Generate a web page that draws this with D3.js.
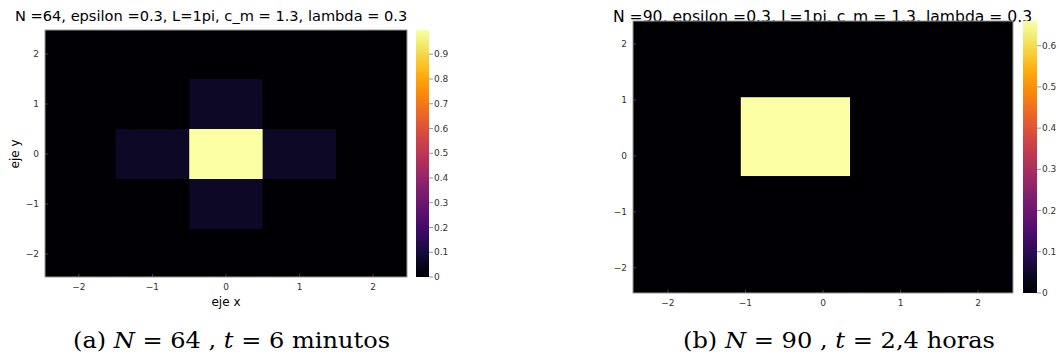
<!DOCTYPE html>
<html>
<head>
<meta charset="utf-8">
<script src="https://cdn.jsdelivr.net/npm/d3@7"></script>
<style>
  body { margin: 0; background: #fff; }
  svg { display: block; }
</style>
</head>
<body>
<div id="theChart"></div>
<script>
// panel (a): 5x5 grid, unit cells
const aTitle = "N =64, epsilon =0.3, L=1pi, c_m = 1.3, lambda = 0.3"
const aXCenters = [-2, -1, 0, 1, 2]
const aYCenters = [-2, -1, 0, 1, 2]
const aCell = 1
// rows from y=-2 to y=2
const aValues = [
	[0, 0, 0, 0, 0],
	[0, 0, 0.07, 0, 0],
	[0, 0.07, 0.998, 0.07, 0],
	[0, 0, 0.07, 0, 0],
	[0, 0, 0, 0, 0],
]
const aMax = 0.998
const aBarTicks = [0, 0.1, 0.2, 0.3, 0.4, 0.5, 0.6, 0.7, 0.8, 0.9]

// panel (b): coarser grid
const bTitle = "N =90, epsilon =0.3, L=1pi, c_m = 1.3, lambda = 0.3"
const bXCenters = [-1.765, -0.355, 1.055, 2.465]
const bYCenters = [-2.475, -1.065, 0.345, 1.755]
const bCell = 1.41
const bValues = [
	[0, 0, 0, 0],
	[0, 0, 0, 0],
	[0, 0.66, 0, 0],
	[0, 0, 0, 0],
]
const bMax = 0.66
const bBarTicks = [0, 0.1, 0.2, 0.3, 0.4, 0.5, 0.6]

const axisTicks = [-2, -1, 0, 1, 2]

const w = 1059
const h = 358

const svg = d3
	.select("#theChart")
	.append("svg")
	.attr("width", w)
	.attr("height", h)

const defs = svg.append("defs")

function fmt(v) {
	return v < 0 ? "\u2212" + Math.abs(v) : String(v)
}

function drawPanel(p) {
	const x = d3.scaleLinear().domain(p.xDomain).range([p.left, p.right])
	const y = d3.scaleLinear().domain(p.yDomain).range([p.bottom, p.top])
	const color = d3.scaleSequential(d3.interpolateInferno).domain([0, p.max])

	// title first, the plot covers it where they overlap
	svg.append("text")
		.attr("x", p.titleX)
		.attr("y", p.titleY)
		.style("font-family", "DejaVu Sans")
		.style("font-size", p.titleSize + "px")
		.attr("fill", "#000")
		.text(p.title)

	defs.append("clipPath")
		.attr("id", p.id + "clip")
		.append("rect")
		.attr("x", p.left)
		.attr("y", p.top)
		.attr("width", p.right - p.left)
		.attr("height", p.bottom - p.top)

	const cells = []
	p.values.forEach((row, j) => {
		row.forEach((v, i) => {
			cells.push({ cx: p.xs[i], cy: p.ys[j], v: v })
		})
	})

	const g = svg.append("g").attr("clip-path", `url(#${p.id}clip)`)
	g.append("rect")
		.attr("x", p.left)
		.attr("y", p.top)
		.attr("width", p.right - p.left)
		.attr("height", p.bottom - p.top)
		.attr("fill", color(0))
	g.selectAll("rect.cell")
		.data(cells)
		.enter()
		.append("rect")
		.attr("class", "cell")
		.attr("x", d => x(d.cx - p.cell / 2))
		.attr("y", d => y(d.cy + p.cell / 2))
		.attr("width", d => x(d.cx + p.cell / 2) - x(d.cx - p.cell / 2))
		.attr("height", d => y(d.cy - p.cell / 2) - y(d.cy + p.cell / 2))
		.attr("fill", d => color(d.v))

	// frame
	svg.append("rect")
		.attr("x", p.left)
		.attr("y", p.top)
		.attr("width", p.right - p.left)
		.attr("height", p.bottom - p.top)
		.attr("fill", "none")
		.attr("stroke", "#9a9a9a")
		.attr("stroke-width", 1)

	// ticks
	svg.selectAll(null)
		.data(axisTicks)
		.enter()
		.append("line")
		.attr("x1", d => x(d))
		.attr("x2", d => x(d))
		.attr("y1", p.bottom)
		.attr("y2", p.bottom - 3)
		.attr("stroke", "#777")
		.attr("stroke-width", 0.6)
	svg.selectAll(null)
		.data(axisTicks)
		.enter()
		.append("line")
		.attr("x1", p.left)
		.attr("x2", p.left + 3)
		.attr("y1", d => y(d))
		.attr("y2", d => y(d))
		.attr("stroke", "#777")
		.attr("stroke-width", 0.6)

	svg.selectAll(null)
		.data(axisTicks)
		.enter()
		.append("text")
		.attr("x", d => x(d))
		.attr("y", p.bottom + 13)
		.attr("text-anchor", "middle")
		.style("font-family", "DejaVu Sans")
		.style("font-size", "9px")
		.attr("fill", "#333")
		.text(fmt)
	svg.selectAll(null)
		.data(axisTicks)
		.enter()
		.append("text")
		.attr("x", p.left - 6)
		.attr("y", d => y(d) + 3)
		.attr("text-anchor", "end")
		.style("font-family", "DejaVu Sans")
		.style("font-size", "9px")
		.attr("fill", "#333")
		.text(fmt)

	// colorbar
	const grad = defs.append("linearGradient")
		.attr("id", p.id + "grad")
		.attr("x1", 0).attr("x2", 0)
		.attr("y1", 1).attr("y2", 0)
	d3.range(0, 1.0001, 0.05).forEach(t => {
		grad.append("stop")
			.attr("offset", t)
			.attr("stop-color", d3.interpolateInferno(t))
	})
	const cb = d3.scaleLinear().domain([0, p.max]).range([p.bottom, p.top])
	svg.append("rect")
		.attr("x", p.barX)
		.attr("y", p.top)
		.attr("width", p.barW)
		.attr("height", p.bottom - p.top)
		.attr("fill", `url(#${p.id}grad)`)
	svg.selectAll(null)
		.data(p.barTicks)
		.enter()
		.append("line")
		.attr("x1", p.barX + p.barW)
		.attr("x2", p.barX + p.barW + 4)
		.attr("y1", d => cb(d))
		.attr("y2", d => cb(d))
		.attr("stroke", "#555")
		.attr("stroke-width", 0.6)
	svg.selectAll(null)
		.data(p.barTicks)
		.enter()
		.append("text")
		.attr("x", p.barX + p.barW + 5)
		.attr("y", d => cb(d) + 3)
		.style("font-family", "DejaVu Sans")
		.style("font-size", "9px")
		.attr("fill", "#333")
		.text(d => d)
}

drawPanel({
	id: "a",
	title: aTitle,
	titleX: 15,
	titleY: 21,
	titleSize: 14.6,
	left: 45,
	right: 407,
	top: 30,
	bottom: 277,
	xDomain: [-2.46, 2.46],
	yDomain: [-2.46, 2.48],
	xs: aXCenters,
	ys: aYCenters,
	cell: aCell,
	values: aValues,
	max: aMax,
	barX: 416,
	barW: 13,
	barTicks: aBarTicks,
})

drawPanel({
	id: "b",
	title: bTitle,
	titleX: 613,
	titleY: 22,
	titleSize: 15.6,
	left: 633,
	right: 1013,
	top: 21,
	bottom: 293,
	xDomain: [-2.45, 2.45],
	yDomain: [-2.45, 2.41],
	xs: bXCenters,
	ys: bYCenters,
	cell: bCell,
	values: bValues,
	max: bMax,
	barX: 1023,
	barW: 14,
	barTicks: bBarTicks,
})

// axis labels of panel (a)
svg.append("text")
	.attr("x", 226)
	.attr("y", 306)
	.attr("text-anchor", "middle")
	.style("font-family", "DejaVu Sans")
	.style("font-size", "12px")
	.text("eje x")
svg.append("text")
	.attr("transform", "translate(19, 154) rotate(-90)")
	.attr("text-anchor", "middle")
	.style("font-family", "DejaVu Sans")
	.style("font-size", "12px")
	.text("eje y")

// captions
const captions = [
	{ x: 73, len: 317, parts: ["(a) ", "N", " = 64 , ", "t", " = 6 minutos"] },
	{ x: 683, len: 312, parts: ["(b) ", "N", " = 90 , ", "t", " = 2,4 horas"] },
]
captions.forEach(c => {
	const t = svg.append("text")
		.attr("x", c.x)
		.attr("y", 348)
		.attr("textLength", c.len)
		.attr("lengthAdjust", "spacingAndGlyphs")
		.style("font-family", "DejaVu Serif")
		.style("font-size", "23px")
		.attr("xml:space", "preserve")
	c.parts.forEach((s, i) => {
		t.append("tspan")
			.style("font-style", i % 2 === 1 ? "italic" : "normal")
			.text(s)
	})
})
</script>
</body>
</html>
